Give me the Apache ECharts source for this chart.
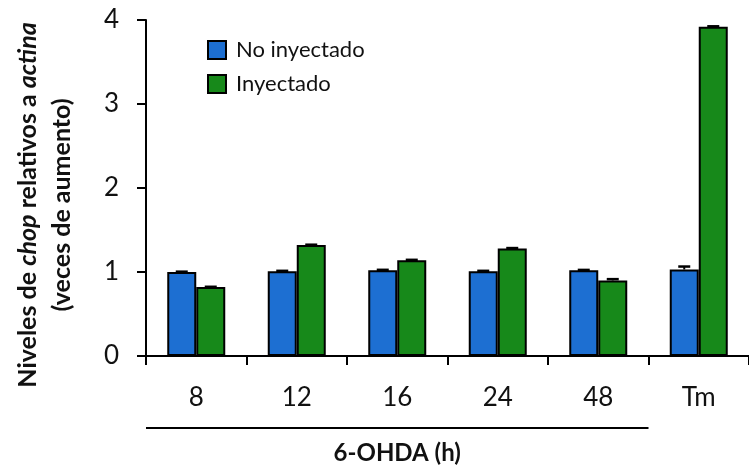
<!DOCTYPE html>
<html>
<head>
<meta charset="utf-8">
<script src="https://cdn.jsdelivr.net/npm/echarts@6/dist/echarts.min.js"></script>
<style>
  html, body { margin: 0; padding: 0; background: #fff; }
  #chart { width: 749px; height: 466px; }
</style>
</head>
<body>
<div id="chart"></div>
<script>
// chop expression relative to actin (fold change), per 6-OHDA exposure time and tunicamycin
const categories = ['8', '12', '16', '24', '48', 'Tm'];
const seriesNames = ['No inyectado', 'Inyectado'];
const noInyectado = [1.00, 1.01, 1.02, 1.01, 1.02, 1.03];
const inyectado = [0.82, 1.32, 1.14, 1.28, 0.90, 3.92];
const noInyectadoErr = [0.004, 0.004, 0.006, 0.004, 0.005, 0.035];
const inyectadoErr = [0.004, 0.005, 0.005, 0.005, 0.015, 0.005];
const yTicks = [0, 1, 2, 3, 4];

const FONT = 'Lato, "Open Sans", sans-serif';
const BLUE = '#1d6fd2';
const GREEN = '#17891a';
const BAR_W = 29;

const chart = echarts.init(document.getElementById('chart'), null, { renderer: 'canvas' });

function errorSeries(values, errs, offset) {
  return {
    type: 'custom',
    silent: true,
    z: 5,
    data: values.map((v, i) => [i, v, v + errs[i]]),
    renderItem: function (params, api) {
      const base = api.coord([api.value(0), api.value(1)]);
      const top = api.coord([api.value(0), api.value(2)]);
      const x = base[0] + offset;
      const half = 6;
      return {
        type: 'group',
        children: [
          { type: 'line', shape: { x1: x, y1: base[1], x2: x, y2: top[1] },
            style: { stroke: '#000', lineWidth: 2 } },
          { type: 'line', shape: { x1: x - half, y1: top[1], x2: x + half, y2: top[1] },
            style: { stroke: '#000', lineWidth: 2.5 } }
        ]
      };
    }
  };
}

const option = {
  animation: false,
  backgroundColor: '#fff',
  textStyle: { fontFamily: FONT },
  grid: { left: 146, top: 20, bottom: 110, width: 611, containLabel: false },
  legend: {
    data: seriesNames,
    orient: 'vertical',
    left: 202,
    top: 34,
    itemWidth: 18,
    itemHeight: 18,
    itemGap: 12,
    icon: 'rect',
    textStyle: { fontFamily: FONT, fontSize: 22, color: '#111', padding: [0, 0, 16, 5] }
  },
  xAxis: {
    type: 'category',
    data: categories,
    axisLine: { lineStyle: { color: '#000', width: 2 } },
    axisTick: { show: true, length: 9, lineStyle: { color: '#000', width: 2 } },
    axisLabel: { fontFamily: FONT, fontSize: 26, color: '#111', margin: 29 }
  },
  yAxis: {
    type: 'value',
    min: 0,
    max: 4,
    interval: 1,
    axisLine: { show: true, lineStyle: { color: '#000', width: 2 } },
    axisTick: { show: true, length: 9, lineStyle: { color: '#000', width: 2 } },
    splitLine: { show: false },
    axisLabel: {
      fontFamily: FONT, fontSize: 26, color: '#111', margin: 27,
      formatter: v => (yTicks.includes(v) ? String(v) : '')
    }
  },
  series: [
    {
      name: seriesNames[0],
      type: 'bar',
      data: noInyectado,
      barWidth: BAR_W,
      barGap: '0%',
      itemStyle: { color: BLUE, borderColor: '#000', borderWidth: 2 }
    },
    {
      name: seriesNames[1],
      type: 'bar',
      data: inyectado,
      barWidth: BAR_W,
      barGap: '0%',
      itemStyle: { color: GREEN, borderColor: '#000', borderWidth: 2 }
    },
    errorSeries(noInyectado, noInyectadoErr, -BAR_W / 2),
    errorSeries(inyectado, inyectadoErr, BAR_W / 2)
  ]
};

chart.setOption(option);

// Y-axis title (two lines, gene names in italic) and the bracket grouping the 6-OHDA times
const x8 = chart.convertToPixel({ xAxisIndex: 0 }, '8');
const x48 = chart.convertToPixel({ xAxisIndex: 0 }, '48');
const band = chart.convertToPixel({ xAxisIndex: 0 }, '12') - x8;
const lineLeft = x8 - band / 2;
const lineRight = x48 + band / 2;

chart.setOption({
  graphic: [
    {
      type: 'text',
      x: 45,
      y: 205,
      rotation: Math.PI / 2,
      style: {
        text: '{b|Niveles de }{bi|chop}{b| relativos a }{bi|actina}\n{b|(veces de aumento)}',
        align: 'center',
        verticalAlign: 'middle',
        rich: {
          b: { fontFamily: FONT, fontWeight: 'bold', fontSize: 25, fill: '#111', lineHeight: 34 },
          bi: { fontFamily: FONT, fontWeight: 'bold', fontStyle: 'italic', fontSize: 25, fill: '#111', lineHeight: 34 }
        }
      }
    },
    {
      type: 'line',
      shape: { x1: lineLeft, y1: 428, x2: lineRight, y2: 428 },
      style: { stroke: '#000', lineWidth: 2 }
    },
    {
      type: 'text',
      x: (lineLeft + lineRight) / 2,
      y: 453,
      style: {
        text: '6-OHDA (h)',
        align: 'center',
        verticalAlign: 'middle',
        font: 'bold 24px ' + FONT,
        fill: '#111'
      }
    }
  ]
});
</script>
</body>
</html>
